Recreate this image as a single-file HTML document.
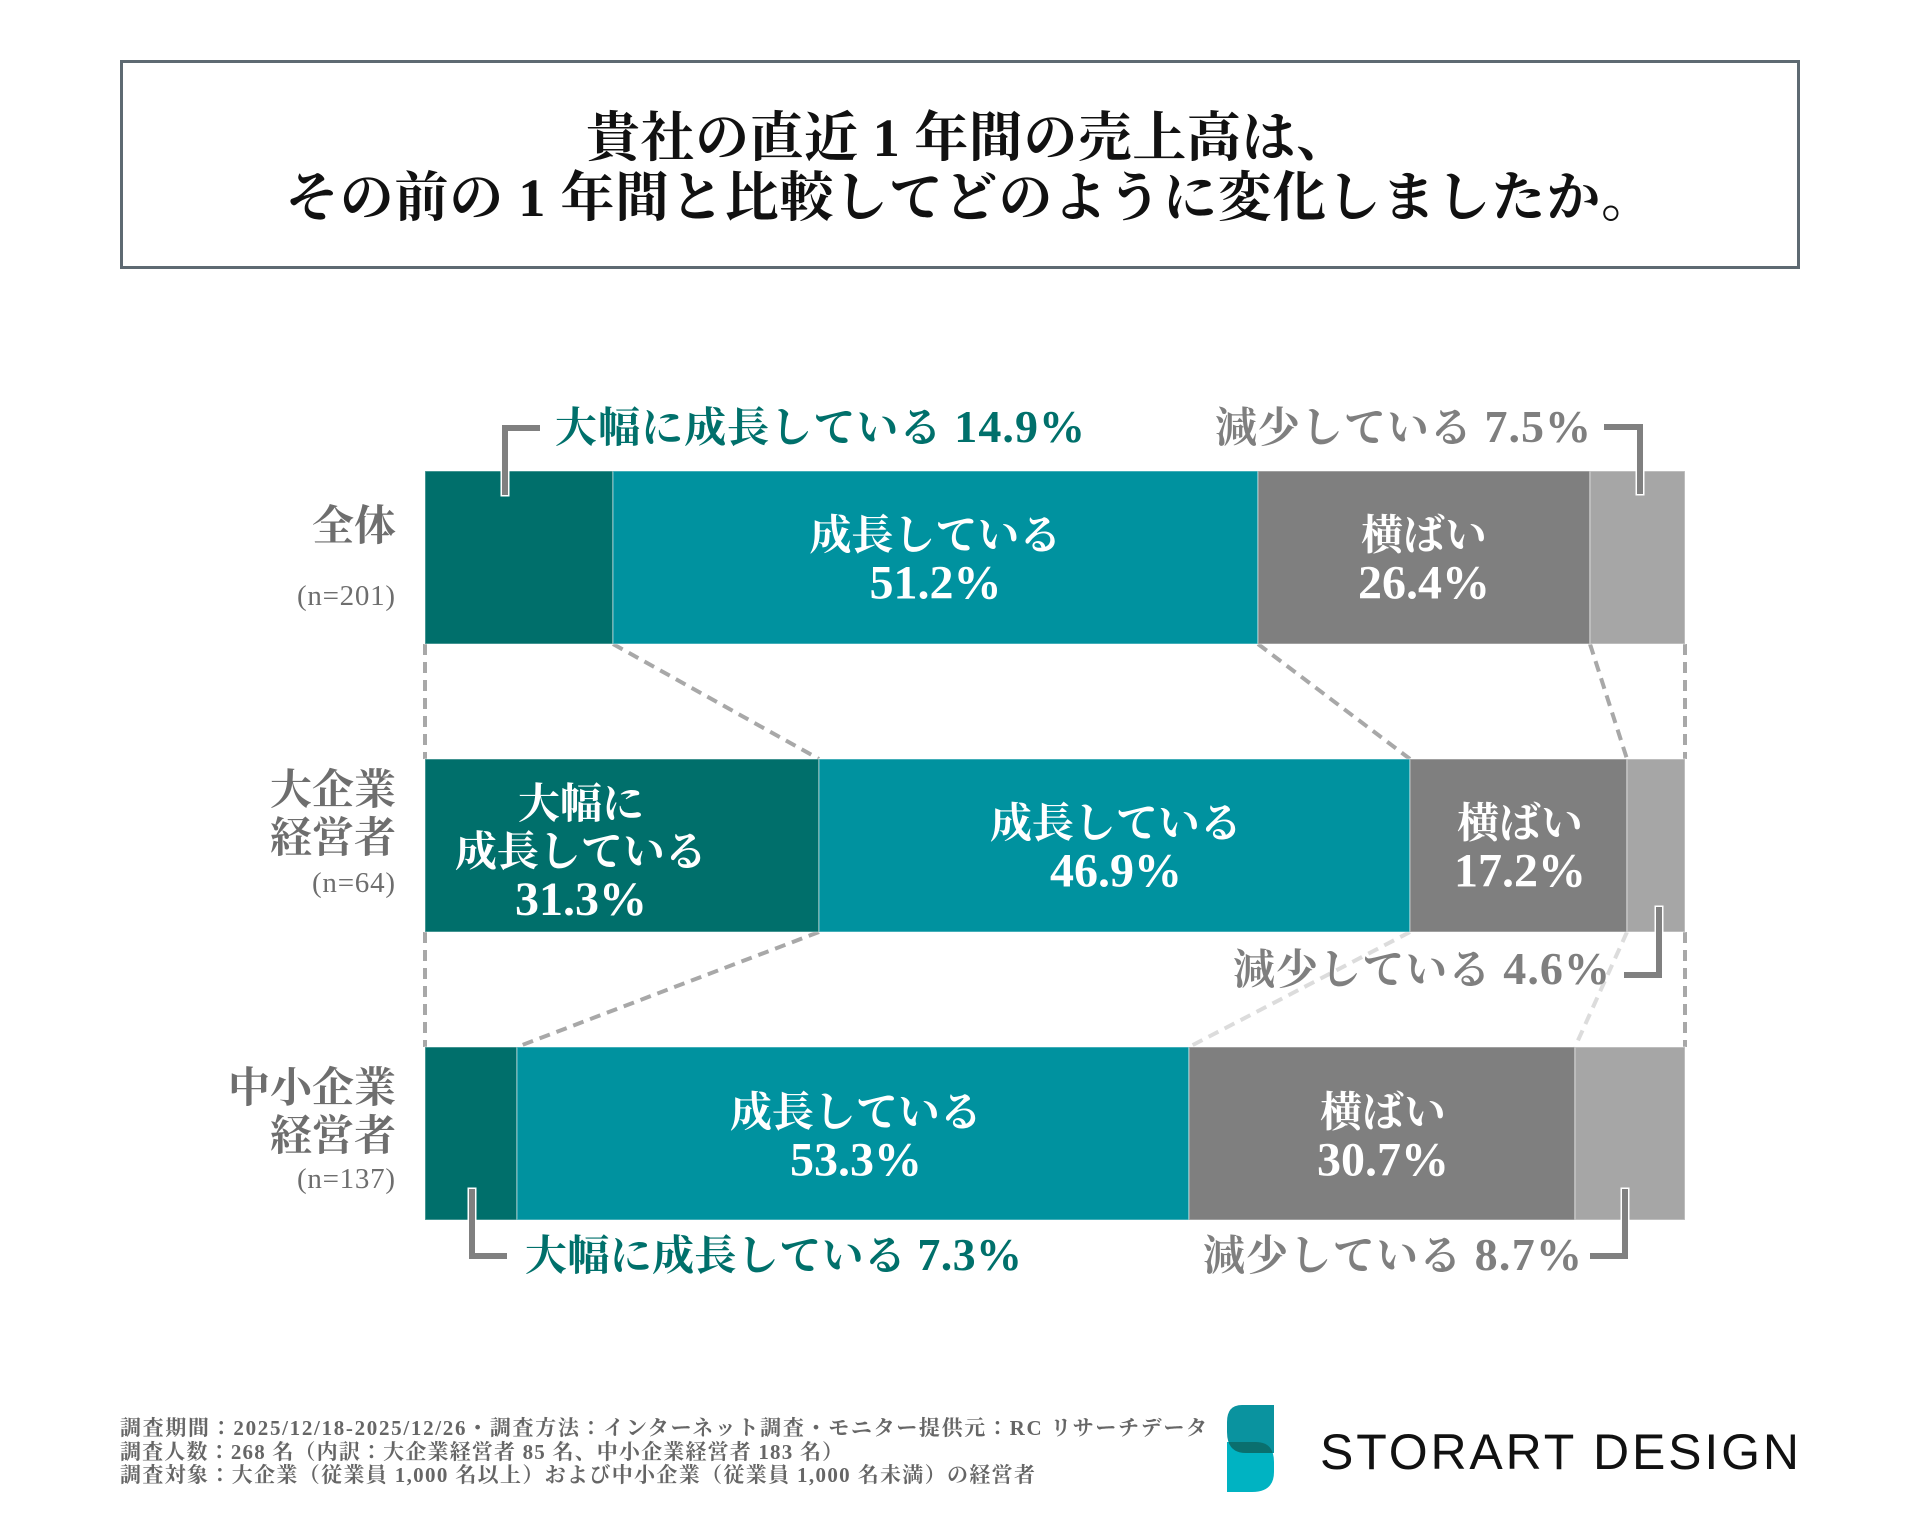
<!DOCTYPE html>
<html lang="ja">
<head>
<meta charset="utf-8">
<title>売上高の変化</title>
<style>
  html,body{margin:0;padding:0;background:#fff;}
  svg{display:block;}
  .serif{font-family:"Liberation Serif","Noto Serif CJK SC",serif;font-weight:700;}
  .serifn{font-family:"Liberation Serif","Noto Serif CJK SC",serif;font-weight:400;}
  .sans{font-family:"Liberation Sans",sans-serif;}
</style>
</head>
<body>
<svg width="1920" height="1540" viewBox="0 0 1920 1540" xmlns="http://www.w3.org/2000/svg">
  <rect x="0" y="0" width="1920" height="1540" fill="#ffffff"/>

  <!-- Title box -->
  <rect x="121.5" y="61.5" width="1677" height="206" fill="none" stroke="#5e6a72" stroke-width="3"/>
  <text class="serif" x="586" y="156" font-size="54" fill="#111" textLength="764" lengthAdjust="spacing">貴社の直近 1 年間の売上高は、</text>
  <text class="serif" x="285" y="216" font-size="54" fill="#111" textLength="1370" lengthAdjust="spacing">その前の 1 年間と比較してどのように変化しましたか。</text>

  <!-- Dashed connectors -->
  <g fill="none" stroke-width="4" stroke-dasharray="11 7">
    <g stroke="#a8a8a8">
      <line x1="425" y1="644" x2="425" y2="759"/>
      <line x1="613" y1="644" x2="819" y2="759"/>
      <line x1="1258" y1="644" x2="1410" y2="759"/>
      <line x1="1590" y1="644" x2="1627" y2="759"/>
      <line x1="1685" y1="644" x2="1685" y2="759"/>
      <line x1="425" y1="932" x2="425" y2="1047"/>
      <line x1="819" y1="932" x2="517" y2="1047"/>
      <line x1="1685" y1="932" x2="1685" y2="1047"/>
    </g>
    <g stroke="#dcdcdc">
      <line x1="1410" y1="932" x2="1189" y2="1047"/>
      <line x1="1627" y1="932" x2="1575" y2="1047"/>
    </g>
  </g>

  <!-- Bars -->
  <g stroke="#ffffff" stroke-opacity="0.35" stroke-width="1.5">
    <rect x="425" y="471" width="188" height="173" fill="#006f6b"/>
    <rect x="613" y="471" width="645" height="173" fill="#00929f"/>
    <rect x="1258" y="471" width="332" height="173" fill="#7f7f7f"/>
    <rect x="1590" y="471" width="95" height="173" fill="#a6a6a6"/>

    <rect x="425" y="759" width="394" height="173" fill="#006f6b"/>
    <rect x="819" y="759" width="591" height="173" fill="#00929f"/>
    <rect x="1410" y="759" width="217" height="173" fill="#7f7f7f"/>
    <rect x="1627" y="759" width="58" height="173" fill="#a6a6a6"/>

    <rect x="425" y="1047" width="92" height="173" fill="#006f6b"/>
    <rect x="517" y="1047" width="672" height="173" fill="#00929f"/>
    <rect x="1189" y="1047" width="386" height="173" fill="#7f7f7f"/>
    <rect x="1575" y="1047" width="110" height="173" fill="#a6a6a6"/>
  </g>

  <!-- In-bar labels -->
  <g class="serif" fill="#ffffff" text-anchor="middle">
    <text x="935.5" y="549.5" font-size="42">成長している</text>
    <text x="935.5" y="598.5" font-size="48">51.2%</text>
    <text x="1424" y="549.5" font-size="42">横ばい</text>
    <text x="1424" y="598.5" font-size="48">26.4%</text>

    <text x="581" y="818" font-size="42">大幅に</text>
    <text x="581" y="866" font-size="42">成長している</text>
    <text x="581" y="915" font-size="48">31.3%</text>
    <text x="1116" y="837.5" font-size="42">成長している</text>
    <text x="1116" y="886.5" font-size="48">46.9%</text>
    <text x="1520" y="837.5" font-size="42">横ばい</text>
    <text x="1520" y="886.5" font-size="48">17.2%</text>

    <text x="856" y="1126.5" font-size="42">成長している</text>
    <text x="856" y="1175.5" font-size="48">53.3%</text>
    <text x="1383" y="1126.5" font-size="42">横ばい</text>
    <text x="1383" y="1175.5" font-size="48">30.7%</text>
  </g>

  <!-- Brackets -->
  <g fill="none" stroke-linecap="square" stroke-linejoin="miter">
    <g stroke="#ffffff" stroke-width="9">
      <polyline points="537,428 505,428 505,492"/>
      <polyline points="1607,427 1640,427 1640,491"/>
      <polyline points="1627,975 1659,975 1659,910"/>
      <polyline points="472,1192 472,1256 504,1256"/>
      <polyline points="1625,1192 1625,1256 1593,1256"/>
    </g>
    <g stroke="#808080" stroke-width="6">
      <polyline points="537,428 505,428 505,492"/>
      <polyline points="1607,427 1640,427 1640,491"/>
      <polyline points="1627,975 1659,975 1659,910"/>
      <polyline points="472,1192 472,1256 504,1256"/>
      <polyline points="1625,1192 1625,1256 1593,1256"/>
    </g>
  </g>

  <!-- Outside labels -->
  <text class="serif" x="555" y="442" font-size="42" fill="#00706b" textLength="530" lengthAdjust="spacing">大幅に成長している <tspan font-size="46">14.9%</tspan></text>
  <text class="serif" x="1215" y="442" font-size="42" fill="#7f7f7f" textLength="376" lengthAdjust="spacing">減少している <tspan font-size="46">7.5%</tspan></text>
  <text class="serif" x="1233" y="984" font-size="42" fill="#7f7f7f" textLength="377" lengthAdjust="spacing">減少している <tspan font-size="46">4.6%</tspan></text>
  <text class="serif" x="525" y="1270" font-size="42" fill="#00706b" textLength="497" lengthAdjust="spacing">大幅に成長している <tspan font-size="46">7.3%</tspan></text>
  <text class="serif" x="1203" y="1270" font-size="42" fill="#7f7f7f" textLength="379" lengthAdjust="spacing">減少している <tspan font-size="46">8.7%</tspan></text>

  <!-- Category labels -->
  <g class="serif" fill="#6e6e6e" text-anchor="end">
    <text x="396" y="540" font-size="42">全体</text>
    <text x="396" y="804" font-size="42">大企業</text>
    <text x="396" y="852" font-size="42">経営者</text>
    <text x="396" y="1102" font-size="42">中小企業</text>
    <text x="396" y="1150" font-size="42">経営者</text>
  </g>
  <g class="serifn" fill="#6e6e6e" font-size="29">
    <text x="297" y="605" textLength="98" lengthAdjust="spacing">(n=201)</text>
    <text x="312" y="892" textLength="83" lengthAdjust="spacing">(n=64)</text>
    <text x="297" y="1188" textLength="98" lengthAdjust="spacing">(n=137)</text>
  </g>

  <!-- Footer -->
  <g class="serif" fill="#666666" font-size="21">
    <text x="120" y="1435" textLength="1087" lengthAdjust="spacing">調査期間：2025/12/18-2025/12/26・調査方法：インターネット調査・モニター提供元：RC リサーチデータ</text>
    <text x="120" y="1459" textLength="723" lengthAdjust="spacing">調査人数：268 名（内訳：大企業経営者 85 名、中小企業経営者 183 名）</text>
    <text x="120" y="1482" textLength="915" lengthAdjust="spacing">調査対象：大企業（従業員 1,000 名以上）および中小企業（従業員 1,000 名未満）の経営者</text>
  </g>

  <!-- Logo -->
  <defs>
    <clipPath id="botclip">
      <path d="M1227,1442 L1256,1442 Q1274,1442 1274,1462 L1274,1472 Q1274,1492 1252,1492 L1227,1492 Z"/>
    </clipPath>
  </defs>
  <path d="M1274,1405 L1242,1405 Q1227,1405 1227,1422 L1227,1432 Q1227,1453 1246,1453 L1274,1453 Z" fill="#0a939f"/>
  <path d="M1227,1442 L1256,1442 Q1274,1442 1274,1462 L1274,1472 Q1274,1492 1252,1492 L1227,1492 Z" fill="#00b3c2"/>
  <path d="M1274,1405 L1242,1405 Q1227,1405 1227,1422 L1227,1432 Q1227,1453 1246,1453 L1274,1453 Z" fill="#0a6f6e" clip-path="url(#botclip)"/>
  <text class="sans" x="1320" y="1469" font-size="50" fill="#111111" textLength="479" lengthAdjust="spacing">STORART DESIGN</text>
</svg>
</body>
</html>
